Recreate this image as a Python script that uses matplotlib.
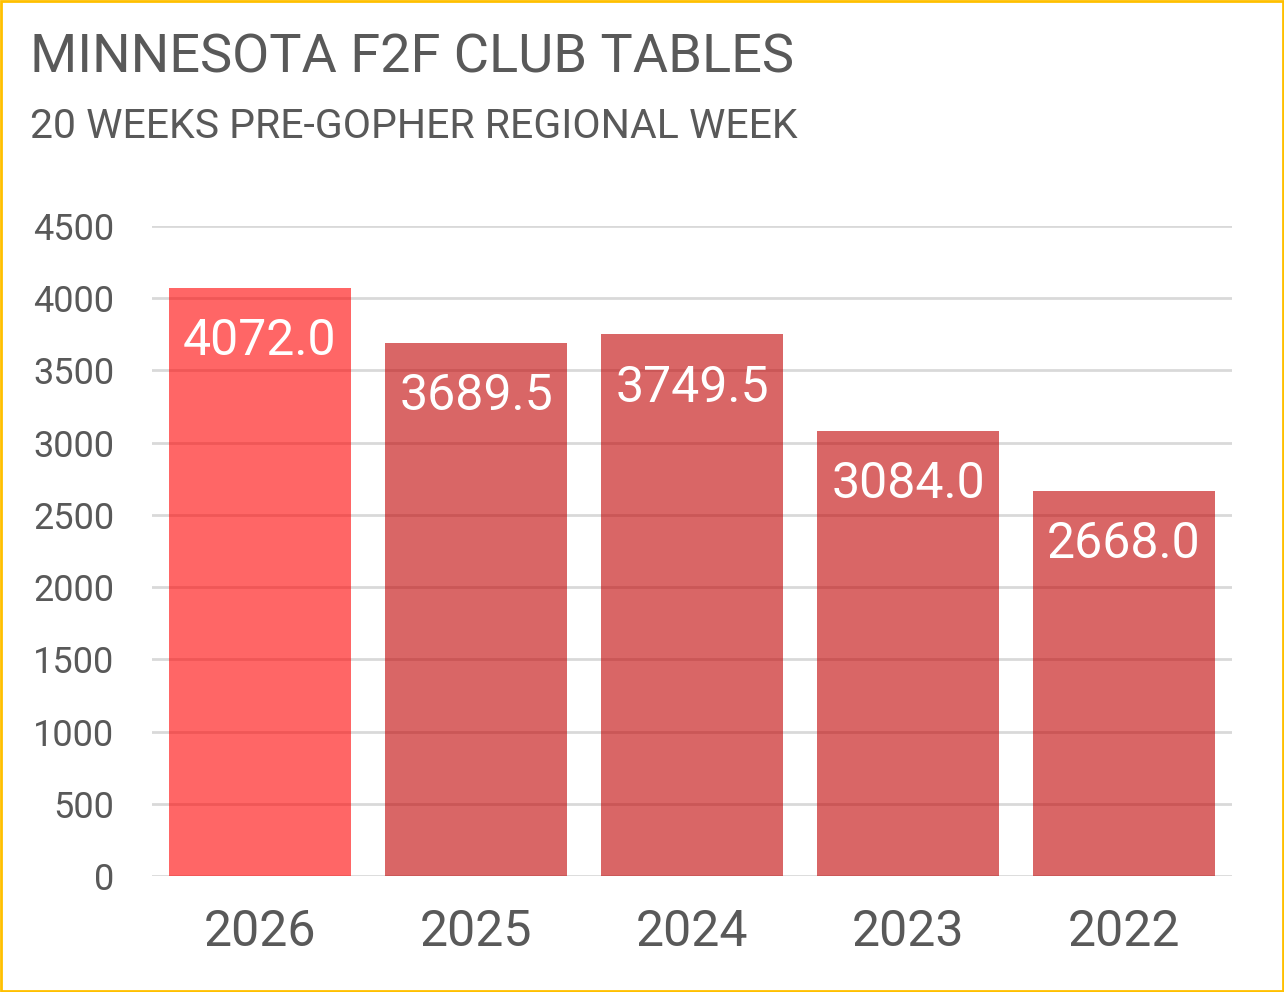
import matplotlib
matplotlib.use('Agg')
import matplotlib.pyplot as plt
from matplotlib.patches import Rectangle

years = ['2026', '2025', '2024', '2023', '2022']
tables = [4072.0, 3689.5, 3749.5, 3084.0, 2668.0]
bar_colors = ['#FF0000', '#C00000', '#C00000', '#C00000', '#C00000']
y_ticks = [0, 500, 1000, 1500, 2000, 2500, 3000, 3500, 4000, 4500]

plt.rcParams['font.family'] = ['Roboto', 'DejaVu Sans']
text_color = '#595959'

W, H = 1284, 992
fig = plt.figure(figsize=(W / 100, H / 100), dpi=100)
ax = fig.add_axes([152 / W, 1 - 876 / H, 1080 / W, 650 / H])

# grid behind the transparent bars
ax.set_axisbelow(True)
ax.yaxis.grid(True, color='#D9D9D9', linewidth=2)

x = range(len(years))
ax.bar(x, tables, width=0.84, color=bar_colors, alpha=0.6, zorder=2)

for i, v in enumerate(tables):
    ax.annotate(f'{v:.1f}', (i, v), xytext=(0, -21), textcoords='offset points',
                ha='center', va='top', color='white', fontsize=36, zorder=3)

ax.set_xlim(-0.5, len(years) - 0.5)
ax.set_ylim(0, 4500)
ax.set_yticks(y_ticks)
ax.set_xticks(list(x))
ax.set_xticklabels(years)
ax.tick_params(axis='y', length=0, pad=27, labelsize=26, labelcolor=text_color)
ax.tick_params(axis='x', length=0, pad=23, labelsize=36, labelcolor=text_color)
for s in ax.spines.values():
    s.set_visible(False)

fig.text(30 / W, 1 - 58 / H, 'MINNESOTA F2F CLUB TABLES', fontsize=39,
         color=text_color, ha='left', va='center')
fig.text(30 / W, 1 - 126 / H, '20 WEEKS PRE-GOPHER REGIONAL WEEK', fontsize=29.5,
         color=text_color, ha='left', va='center')

# yellow frame
fig.patches.append(Rectangle((0.001, 0.001), 0.998, 0.998, transform=fig.transFigure,
                             fill=False, edgecolor='#FFC000', linewidth=2))

fig.savefig('out.png', dpi=100)
